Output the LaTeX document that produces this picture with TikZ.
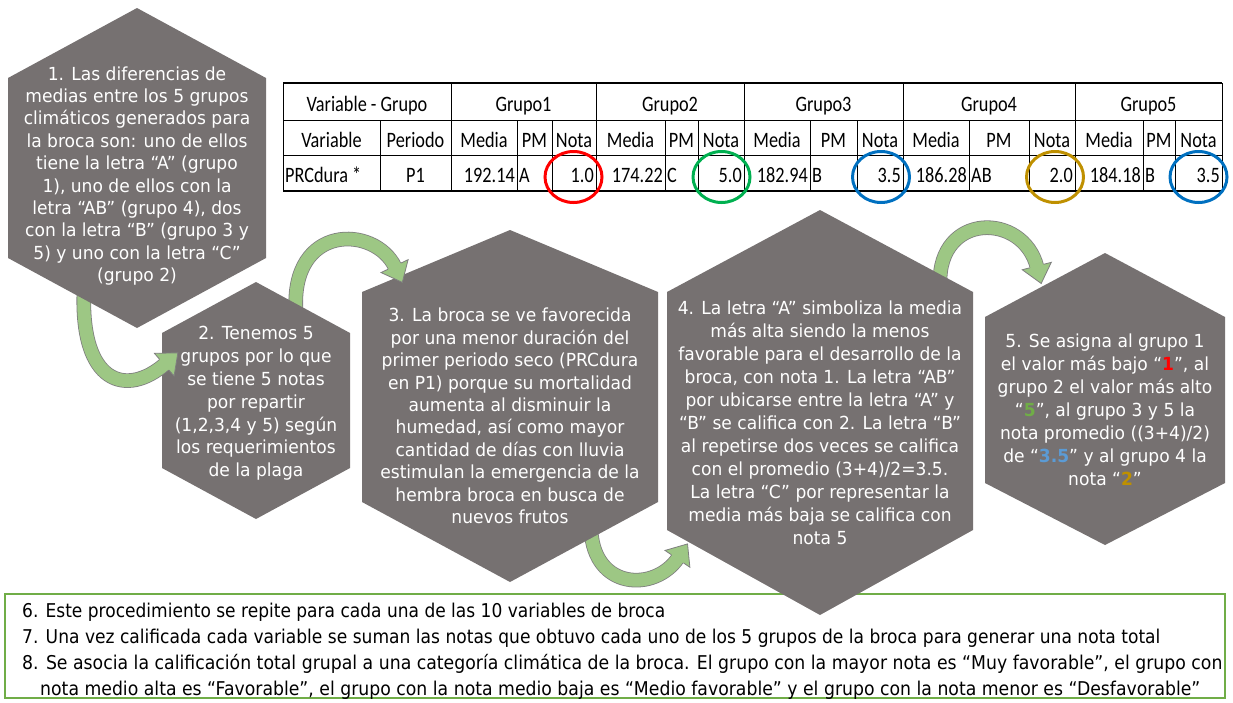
\documentclass[tikz,border=0pt]{standalone}
\usepackage{fontspec}
\usepackage{graphicx}
\setmainfont{DejaVu Sans}[FakeStretch=0.95]
\newfontfamily\tabfont{Carlito}[FakeStretch=0.83]
\usetikzlibrary{calc}
\definecolor{hexgray}{HTML}{767171}
\definecolor{arrowgreen}{HTML}{9DC784}
\definecolor{arrowedge}{HTML}{7F7F7F}
\definecolor{boxgreen}{HTML}{70AD47}
\definecolor{cred}{HTML}{FF0000}
\definecolor{cgreen}{HTML}{00B050}
\definecolor{cblue}{HTML}{0070C0}
\definecolor{cgold}{HTML}{BF9000}
\definecolor{tgreen}{HTML}{70AD47}
\definecolor{tblue}{HTML}{5B9BD5}
\newcommand\headat[2]{% #1 end coordinate, #2 last control coordinate
  \pgfmathanglebetweenpoints{\pgfpointanchor{#2}{center}}{\pgfpointanchor{#1}{center}}%
  \let\hang\pgfmathresult
  \begin{scope}[shift={(#1)}, rotate=\hang]
    \fill[arrowgreen] (-1pt,15pt) -- (17pt,0pt) -- (-1pt,-15pt) -- cycle;
    \draw[arrowedge, line width=0.8pt, line join=miter] (-1pt,7.3pt) -- (-1pt,15pt) -- (17pt,0pt) -- (-1pt,-15pt) -- (-1pt,-7.3pt);
  \end{scope}}
\newcommand\myhex[7]{% cx top hw st sb bot
  \fill[hexgray] (#1,#2) -- ({#1+#3},#4) -- ({#1+#3},#5) -- (#1,#6) -- ({#1-#3},#5) -- ({#1-#3},#4) -- cycle;}
\newcommand\tc[4]{\node[tabtext, anchor=#1] (#2) at #3 {#4};}
\tikzset{
  hextext/.style={text=white, align=center, inner sep=0pt},
  tabtext/.style={inner sep=0pt, font=\tabfont\fontsize{22}{24}\selectfont},
  tabline/.style={line width=1pt, black},
  tabthick/.style={line width=1.8pt, black},
  notering/.style={line width=3pt},
  band/.style={draw=arrowedge, line width=0.8pt, double=arrowgreen, double distance=13pt},
  boxtext/.style={inner sep=0pt, font=\fontsize{19}{21}\selectfont},
}
\begin{document}
\begin{tikzpicture}[x=1pt,y=-1pt]
\useasboundingbox (0,0) rectangle (1233,702);
% bottom box
\draw[boxgreen, line width=1.5pt] (5,594) rectangle (1225,698);
\node[boxtext, anchor=base west] (n6) at (22,617) {\resizebox{643pt}{\height}{6. Este procedimiento se repite para cada una de las 10 variables de broca}};
\node[boxtext, anchor=base west] (n7) at (22,643) {\resizebox{1138pt}{\height}{7. Una vez calificada cada variable se suman las notas que obtuvo cada uno de los 5 grupos de la broca para generar una nota total}};
\node[boxtext, anchor=base west] (n8) at (22,669) {\resizebox{1200pt}{\height}{8. Se asocia la calificación total grupal a una categoría climática de la broca. El grupo con la mayor nota es “Muy favorable”, el grupo con}};
\node[boxtext, anchor=base west] (n9) at (40,695) {\resizebox{1160pt}{\height}{nota medio alta es “Favorable”, el grupo con la nota medio baja es “Medio favorable” y el grupo con la nota menor es “Desfavorable”}};
% table lines
\draw[tabthick] (283,83) -- (1222,83);
\draw[tabline] (283,120) -- (1222,120);
\draw[tabline] (283,155) -- (1222,155);
\draw[tabthick] (283,191) -- (1222,191);
\foreach \x in {283,451,596,744,903,1075,1222} \draw[tabline] (\x,83) -- (\x,120);
\foreach \x in {283,380,451,517,552,596,665,698,744,810,857,903,969,1029,1075,1143,1175,1222} \draw[tabline] (\x,120) -- (\x,191);
% table text
\tc{base}{r1a}{(367,111)}{Variable - Grupo}
\tc{base}{r1b}{(523.5,111)}{Grupo1}
\tc{base}{r1c}{(670,111)}{Grupo2}
\tc{base}{r1d}{(823.5,111)}{Grupo3}
\tc{base}{r1e}{(989,111)}{Grupo4}
\tc{base}{r1f}{(1148.5,111)}{Grupo5}
\tc{base}{r2a}{(331.5,147)}{Variable}
\tc{base}{r2b}{(415.5,147)}{Periodo}
\tc{base}{r2c}{(484,147)}{Media}
\tc{base}{r2d}{(534.5,147)}{PM}
\tc{base}{r2e}{(574,147)}{Nota}
\tc{base}{r2f}{(630.5,147)}{Media}
\tc{base}{r2g}{(681.5,147)}{PM}
\tc{base}{r2h}{(721,147)}{Nota}
\tc{base}{r2i}{(777,147)}{Media}
\tc{base}{r2j}{(833.5,147)}{PM}
\tc{base}{r2k}{(880,147)}{Nota}
\tc{base}{r2l}{(936,147)}{Media}
\tc{base}{r2m}{(999,147)}{PM}
\tc{base}{r2n}{(1052,147)}{Nota}
\tc{base}{r2o}{(1109,147)}{Media}
\tc{base}{r2p}{(1159,147)}{PM}
\tc{base}{r2q}{(1198.5,147)}{Nota}
\tc{base west}{r3a}{(285,182)}{PRCdura *}
\tc{base}{r3b}{(415.5,182)}{P1}
\tc{base east}{r3c}{(515,182)}{192.14}
\tc{base west}{r3d}{(519,182)}{A}
\tc{base east}{r3e}{(594,182)}{1.0}
\tc{base east}{r3f}{(663,182)}{174.22}
\tc{base west}{r3g}{(667,182)}{C}
\tc{base east}{r3h}{(742,182)}{5.0}
\tc{base east}{r3i}{(808,182)}{182.94}
\tc{base west}{r3j}{(812,182)}{B}
\tc{base east}{r3k}{(901,182)}{3.5}
\tc{base east}{r3l}{(967,182)}{186.28}
\tc{base west}{r3m}{(971,182)}{AB}
\tc{base east}{r3n}{(1073,182)}{2.0}
\tc{base east}{r3o}{(1141,182)}{184.18}
\tc{base west}{r3p}{(1145,182)}{B}
\tc{base east}{r3q}{(1220,182)}{3.5}
% rings
\draw[notering, cred] (573.5,177) ellipse [x radius=28.5, y radius=25.5];
\draw[notering, cgreen] (721.5,177) ellipse [x radius=28.5, y radius=25.5];
\draw[notering, cblue] (881,177) ellipse [x radius=28.5, y radius=25.5];
\draw[notering, cgold] (1055,177) ellipse [x radius=28.5, y radius=25.5];
\draw[notering, cblue] (1198.5,177) ellipse [x radius=28.5, y radius=25.5];
% hex 5
\myhex{1105}{253}{120}{317}{483}{545}{}
\node[hextext, font=\fontsize{18}{23}\selectfont] (h5) at (1105,410) {5. Se asigna al grupo 1\\el valor más bajo “\textcolor{cred}{\textbf{1}}”, al\\grupo 2 el valor más alto\\“\textcolor{tgreen}{\textbf{5}}”, al grupo 3 y 5 la\\nota promedio ((3+4)/2)\\de “\textcolor{tblue}{\textbf{3.5}}” y al grupo 4 la\\nota “\textcolor{cgold}{\textbf{2}}”};
% arrow 4
\coordinate (a4s) at (940,284);
\coordinate (a4c) at (1023,212);
\coordinate (a4e) at (1037,267);
\draw[band] (a4s) .. controls (938,212) and (a4c) .. (a4e);
\headat{a4e}{a4c}
% hex 4
\myhex{820}{210}{153}{292}{530}{615}{}
\node[hextext, font=\fontsize{18}{23}\selectfont] (h4) at (820,423) {4. La letra “A” simboliza la media\\más alta siendo la menos\\favorable para el desarrollo de la\\broca, con nota 1. La letra “AB”\\por ubicarse entre la letra “A” y\\“B” se califica con 2. La letra “B”\\al repetirse dos veces se califica\\con el promedio (3+4)/2=3.5.\\La letra “C” por representar la\\media más baja se califica con\\nota 5};
% arrow 3
\coordinate (a3s) at (591,530);
\coordinate (a3c) at (655,592);
\coordinate (a3e) at (678,558);
\draw[band] (a3s) .. controls (594,590) and (a3c) .. (a3e);
\headat{a3e}{a3c}
% hex 3
\myhex{510}{230}{148}{292}{502}{582}{}
\node[hextext, font=\fontsize{18}{22.4}\selectfont] (h3) at (510,416) {3. La broca se ve favorecida\\por una menor duración del\\primer periodo seco (PRCdura\\en P1) porque su mortalidad\\aumenta al disminuir la\\humedad, así como mayor\\cantidad de días con lluvia\\estimulan la emergencia de la\\hembra broca en busca de\\nuevos frutos};
% arrow 2
\coordinate (a2s) at (296,312);
\coordinate (a2c) at (375,225);
\coordinate (a2e) at (395,267);
\draw[band] (a2s) .. controls (290,223) and (a2c) .. (a2e);
\headat{a2e}{a2c}
% hex 2
\myhex{256}{282}{94}{333}{468}{519}{}
\node[hextext, font=\fontsize{18}{22.8}\selectfont] (h2) at (256,403.5) {2. Tenemos 5\\grupos por lo que\\se tiene 5 notas\\por repartir\\(1,2,3,4 y 5) según\\los requerimientos\\de la plaga};
% arrow 1
\coordinate (a1s) at (84,290);
\coordinate (a1c) at (127,397);
\coordinate (a1e) at (165,364);
\draw[band] (a1s) .. controls (80,385) and (a1c) .. (a1e);
\headat{a1e}{a1c}
% hex 1
\myhex{137}{8}{129}{78}{258}{328}{}
\node[hextext, font=\fontsize{18}{22.4}\selectfont] (h1) at (137,176) {1. Las diferencias de\\medias entre los 5 grupos\\climáticos generados para\\la broca son: uno de ellos\\tiene la letra “A” (grupo\\1), uno de ellos con la\\letra “AB” (grupo 4), dos\\con la letra “B” (grupo 3 y\\5) y uno con la letra “C”\\(grupo 2)};
\end{tikzpicture}
\end{document}
